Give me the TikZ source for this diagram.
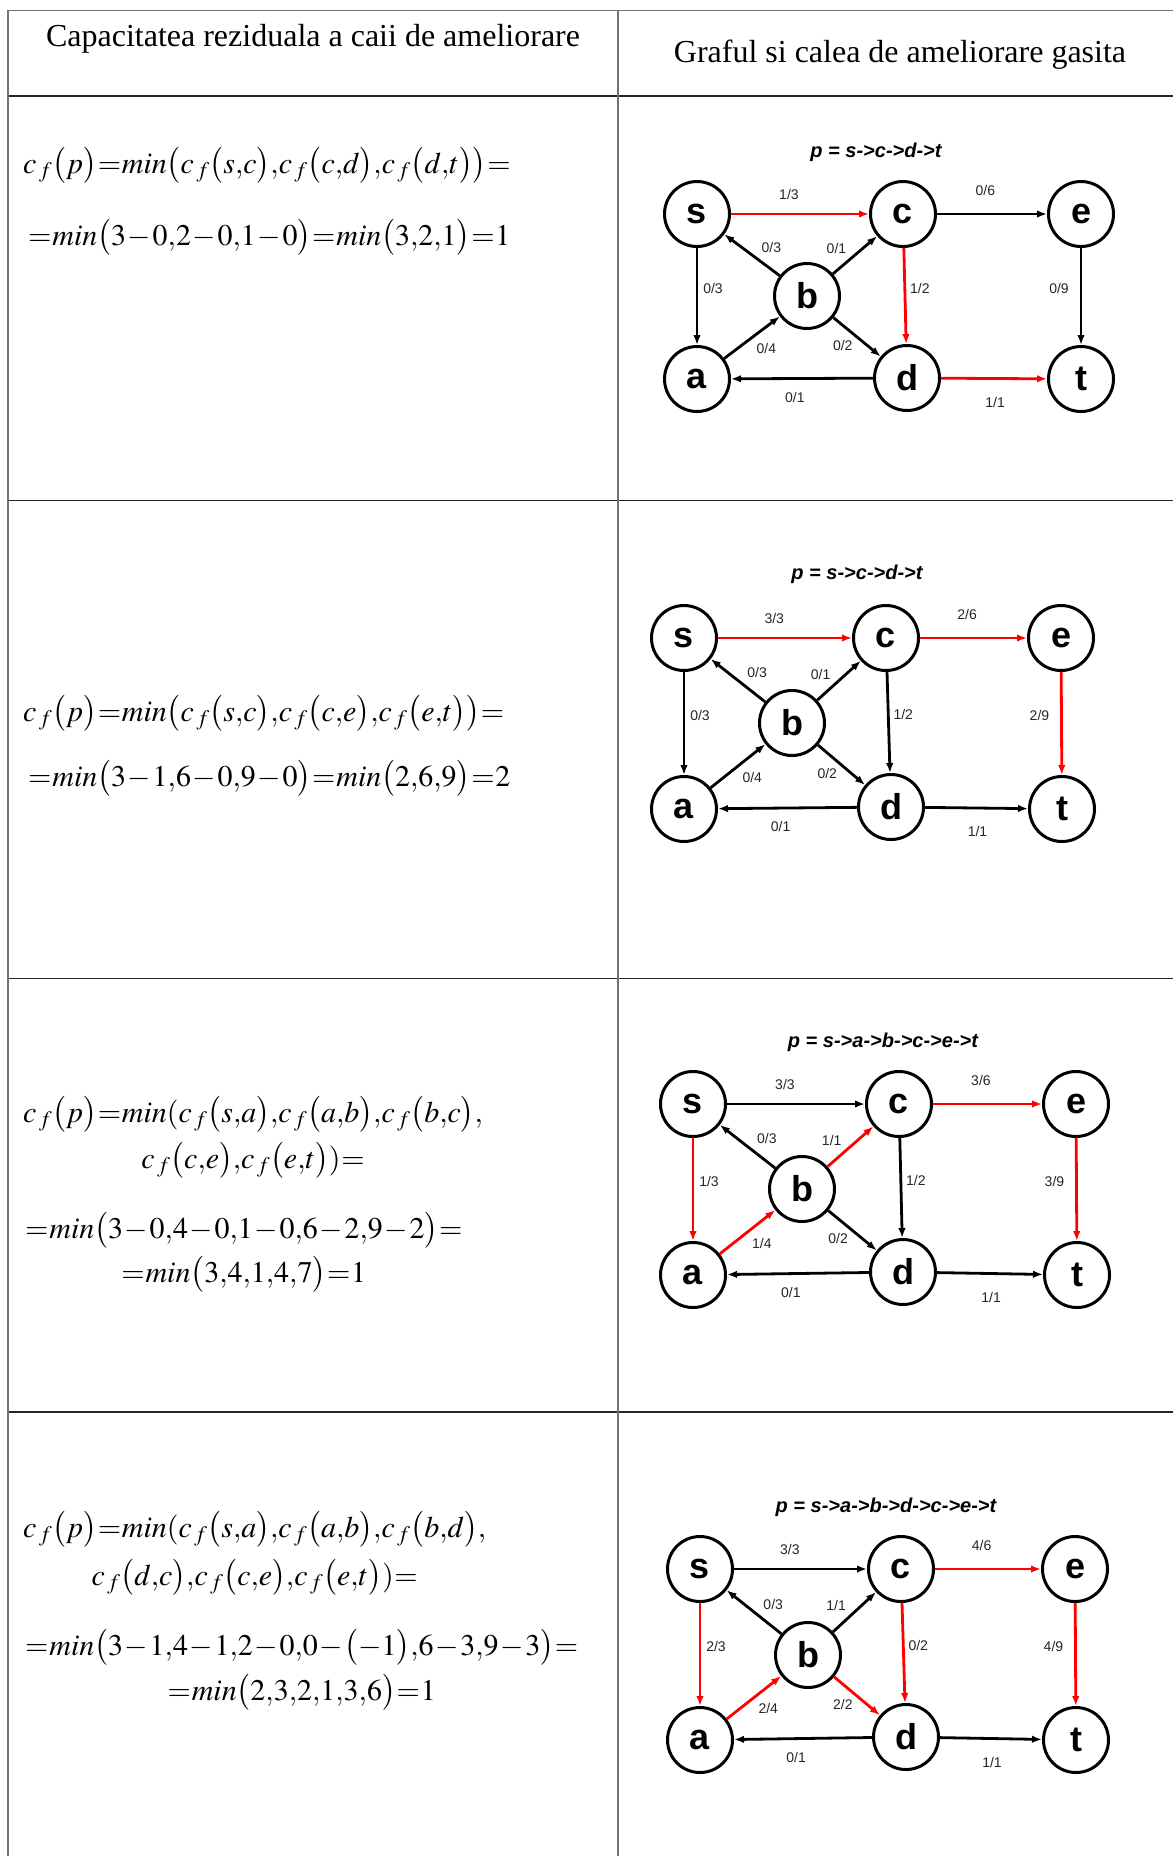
\documentclass[tikz,border=0pt]{standalone}
\usepackage{mathptmx}
\usepackage{fontspec}
\setmainfont{Liberation Serif}
\setsansfont{Liberation Sans}
\usetikzlibrary{arrows.meta, positioning}

\newcommand{\cff}{c_{\,f}}
\newcommand{\hdrfont}{\fontsize{32}{38}\selectfont}
\newcommand{\eqfont}{\fontsize{30}{36}\selectfont\medmuskip=1mu\thickmuskip=0.5mu}

\tikzset{
  vertex/.style={circle, draw, line width=3pt, minimum size=65pt, inner sep=0pt,
    font=\sffamily\bfseries\fontsize{36}{36}\selectfont},
  fedge/.style={line width=2.8pt, -{Latex[length=10pt,width=7.5pt]}},
  aug/.style={fedge, red},
  flowlbl/.style={font=\sffamily\fontsize{14}{14}\selectfont, text=black!85, inner sep=0pt},
  pathttl/.style={font=\sffamily\bfseries\itshape\fontsize{20}{20}\selectfont, anchor=base},
  eqline/.style={font=\eqfont, inner sep=0pt},
  hrule/.style={line width=1.3pt, black!85},
  vrule/.style={line width=1.5pt, black!55},
  % unde stau etichetele pe arce
  l-sc/.style={pos=.42, yshift=20pt},
  l-ce/.style={pos=.44, yshift=24pt},
  l-bs/.style={pos=.35, xshift=11pt, yshift=14pt},
  l-bc/.style={pos=.33, xshift=-11pt, yshift=13pt},
  l-sa/.style={pos=.42, xshift=16pt},
  l-cd/.style={pos=.42, xshift=15pt},
  l-et/.style={pos=.42, xshift=-22pt},
  l-ab/.style={pos=.56, xshift=11pt, yshift=-14pt},
  l-bd/.style={pos=.41, xshift=-10pt, yshift=-12pt},
  l-da/.style={pos=.55, yshift=-18.5pt},
  l-dt/.style={pos=.51, yshift=-23.5pt}
}

\begin{document}
\begin{tikzpicture}[x=1pt, y=-1pt]
  \fill[white] (0,0) rectangle (1173,1856);
  \useasboundingbox (0,0) rectangle (1173,1856);

  % Tabelul
  \draw[vrule, line width=1pt] (8,10) -- (1173,10);
  \draw[hrule] (8,96) -- (1173,96);
  \draw[hrule] (8,500.5) -- (1173,500.5);
  \draw[hrule] (8,978.5) -- (1173,978.5);
  \draw[hrule] (8,1412) -- (1173,1412);
  \draw[vrule] (8,10) -- (8,1856);
  \draw[vrule] (618,10) -- (618,1856);

  \node[font=\hdrfont, anchor=base] (hleft) at (313,46) {Capacitatea reziduala a caii de ameliorare};
  \node[font=\hdrfont, anchor=base] (hright) at (900,62) {Graful si calea de ameliorare gasita};

  % Pasul 1: formula
  \node[eqline, anchor=base west] (r1a) at (23,173)
    {$\cff\bigl(p\bigr)=min\bigl(\cff\bigl(s{,}c\bigr){,}\cff\bigl(c{,}d\bigr){,}\cff\bigl(d{,}t\bigr)\bigr)=$};
  \node[eqline, anchor=base west] (r1b) at (28,245)
    {$=min\bigl(3-0{,}2-0{,}1-0\bigr)=min\bigl(3{,}2{,}1\bigr)=1$};

  % Pasul 1: graful
  \node[pathttl] (p1) at (876,157) {p = s->c->d->t};
  \node[vertex] (s1) at (697,214) {s};
  \node[vertex] (c1) at (903,214) {c};
  \node[vertex] (e1) at (1081,214) {e};
  \node[vertex] (b1) at (807,296) {b};
  \node[vertex] (a1) at (697,379) {a};
  \node[vertex] (d1) at (907,378) {d};
  \node[vertex] (t1) at (1081,379) {t};
  \draw[aug] (s1) -- node[flowlbl, l-sc] {1/3} (c1);
  \draw[fedge] (c1) -- node[flowlbl, l-ce] {0/6} (e1);
  \draw[fedge] (b1) -- node[flowlbl, l-bs] {0/3} (s1);
  \draw[fedge] (b1) -- node[flowlbl, l-bc] {0/1} (c1);
  \draw[fedge] (s1) -- node[flowlbl, l-sa] {0/3} (a1);
  \draw[aug] (c1) -- node[flowlbl, l-cd] {1/2} (d1);
  \draw[fedge] (e1) -- node[flowlbl, l-et] {0/9} (t1);
  \draw[fedge] (a1) -- node[flowlbl, l-ab] {0/4} (b1);
  \draw[fedge] (b1) -- node[flowlbl, l-bd] {0/2} (d1);
  \draw[fedge] (d1) -- node[flowlbl, l-da] {0/1} (a1);
  \draw[aug] (d1) -- node[flowlbl, l-dt] {1/1} (t1);

  % Pasul 2: formula
  \node[eqline, anchor=base west] (r2a) at (23,721)
    {$\cff\bigl(p\bigr)=min\bigl(\cff\bigl(s{,}c\bigr){,}\cff\bigl(c{,}e\bigr){,}\cff\bigl(e{,}t\bigr)\bigr)=$};
  \node[eqline, anchor=base west] (r2b) at (28,786)
    {$=min\bigl(3-1{,}6-0{,}9-0\bigr)=min\bigl(2{,}6{,}9\bigr)=2$};

  % Pasul 2: graful
  \node[pathttl] (p2) at (857,579) {p = s->c->d->t};
  \node[vertex] (s2) at (684,638) {s};
  \node[vertex] (c2) at (886,638) {c};
  \node[vertex] (e2) at (1061,638) {e};
  \node[vertex] (b2) at (792,723) {b};
  \node[vertex] (a2) at (684,809) {a};
  \node[vertex] (d2) at (891,807) {d};
  \node[vertex] (t2) at (1062,809) {t};
  \draw[aug] (s2) -- node[flowlbl, l-sc] {3/3} (c2);
  \draw[aug] (c2) -- node[flowlbl, l-ce] {2/6} (e2);
  \draw[fedge] (b2) -- node[flowlbl, l-bs] {0/3} (s2);
  \draw[fedge] (b2) -- node[flowlbl, l-bc] {0/1} (c2);
  \draw[fedge] (s2) -- node[flowlbl, l-sa] {0/3} (a2);
  \draw[fedge] (c2) -- node[flowlbl, l-cd] {1/2} (d2);
  \draw[aug] (e2) -- node[flowlbl, l-et] {2/9} (t2);
  \draw[fedge] (a2) -- node[flowlbl, l-ab] {0/4} (b2);
  \draw[fedge] (b2) -- node[flowlbl, l-bd] {0/2} (d2);
  \draw[fedge] (d2) -- node[flowlbl, l-da] {0/1} (a2);
  \draw[fedge] (d2) -- node[flowlbl, l-dt] {1/1} (t2);

  % Pasul 3: formula
  \node[eqline, anchor=base west] (r3a) at (23,1122)
    {$\cff\bigl(p\bigr)=min(\cff\bigl(s{,}a\bigr){,}\cff\bigl(a{,}b\bigr){,}\cff\bigl(b{,}c\bigr){,}$};
  \node[eqline, anchor=base] (r3b) at ([yshift=-46pt]r3a.base)
    {$\cff\bigl(c{,}e\bigr){,}\cff\bigl(e{,}t\bigr))=$};
  \node[eqline, anchor=base west] (r3c) at (25,1238)
    {$=min\bigl(3-0{,}4-0{,}1-0{,}6-2{,}9-2\bigr)=$};
  \node[eqline, anchor=base] (r3d) at ([yshift=-44pt]r3c.base)
    {$=min\bigl(3{,}4{,}1{,}4{,}7\bigr)=1$};

  % Pasul 3: graful
  \node[pathttl] (p3) at (883,1047) {p = s->a->b->c->e->t};
  \node[vertex] (s3) at (693,1104) {s};
  \node[vertex] (c3) at (899,1104) {c};
  \node[vertex] (e3) at (1076,1104) {e};
  \node[vertex] (b3) at (802,1189) {b};
  \node[vertex] (a3) at (693,1275) {a};
  \node[vertex] (d3) at (903,1272) {d};
  \node[vertex] (t3) at (1077,1275) {t};
  \draw[fedge] (s3) -- node[flowlbl, l-sc] {3/3} (c3);
  \draw[aug] (c3) -- node[flowlbl, l-ce] {3/6} (e3);
  \draw[fedge] (b3) -- node[flowlbl, l-bs] {0/3} (s3);
  \draw[aug] (b3) -- node[flowlbl, l-bc] {1/1} (c3);
  \draw[aug] (s3) -- node[flowlbl, l-sa] {1/3} (a3);
  \draw[fedge] (c3) -- node[flowlbl, l-cd] {1/2} (d3);
  \draw[aug] (e3) -- node[flowlbl, l-et] {3/9} (t3);
  \draw[aug] (a3) -- node[flowlbl, l-ab] {1/4} (b3);
  \draw[fedge] (b3) -- node[flowlbl, l-bd] {0/2} (d3);
  \draw[fedge] (d3) -- node[flowlbl, l-da] {0/1} (a3);
  \draw[fedge] (d3) -- node[flowlbl, l-dt] {1/1} (t3);

  % Pasul 4: formula
  \node[eqline, anchor=base west] (r4a) at (23,1537)
    {$\cff\bigl(p\bigr)=min(\cff\bigl(s{,}a\bigr){,}\cff\bigl(a{,}b\bigr){,}\cff\bigl(b{,}d\bigr){,}$};
  \node[eqline, anchor=base] (r4b) at ([yshift=-48pt]r4a.base)
    {$\cff\bigl(d{,}c\bigr){,}\cff\bigl(c{,}e\bigr){,}\cff\bigl(e{,}t\bigr))=$};
  \node[eqline, anchor=base west] (r4c) at (25,1655)
    {$=min\bigl(3-1{,}4-1{,}2-0{,}0-\bigl(-1\bigr){,}6-3{,}9-3\bigr)=$};
  \node[eqline, anchor=base] (r4d) at ([yshift=-45pt]r4c.base)
    {$=min\bigl(2{,}3{,}2{,}1{,}3{,}6\bigr)=1$};

  % Pasul 4: graful
  \node[pathttl] (p4) at (886,1512) {p = s->a->b->d->c->e->t};
  \node[vertex] (s4) at (700,1569) {s};
  \node[vertex] (c4) at (901,1569) {c};
  \node[vertex] (e4) at (1075,1569) {e};
  \node[vertex] (b4) at (808,1655) {b};
  \node[vertex] (a4) at (700,1740) {a};
  \node[vertex] (d4) at (906,1737) {d};
  \node[vertex] (t4) at (1076,1740) {t};
  \draw[fedge] (s4) -- node[flowlbl, l-sc] {3/3} (c4);
  \draw[aug] (c4) -- node[flowlbl, l-ce] {4/6} (e4);
  \draw[fedge] (b4) -- node[flowlbl, l-bs] {0/3} (s4);
  \draw[fedge] (b4) -- node[flowlbl, l-bc] {1/1} (c4);
  \draw[aug] (s4) -- node[flowlbl, l-sa] {2/3} (a4);
  \draw[aug] (c4) -- node[flowlbl, l-cd] {0/2} (d4);
  \draw[aug] (e4) -- node[flowlbl, l-et] {4/9} (t4);
  \draw[aug] (a4) -- node[flowlbl, l-ab] {2/4} (b4);
  \draw[aug] (b4) -- node[flowlbl, l-bd] {2/2} (d4);
  \draw[fedge] (d4) -- node[flowlbl, l-da] {0/1} (a4);
  \draw[fedge] (d4) -- node[flowlbl, l-dt] {1/1} (t4);
\end{tikzpicture}
\end{document}
